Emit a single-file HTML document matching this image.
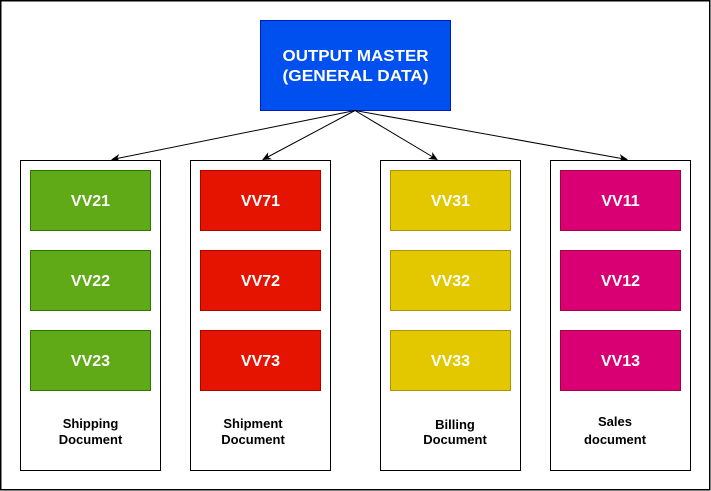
<!DOCTYPE html>
<html><head><meta charset="utf-8"><style>
html,body{margin:0;padding:0;background:#fff;width:711px;height:491px;overflow:hidden}
svg text{font-family:"Liberation Sans",Arial,sans-serif;font-weight:bold}
</style></head><body>
<svg width="711" height="491" viewBox="0 0 711 491" xmlns="http://www.w3.org/2000/svg">
<defs><marker id="a" markerWidth="10" markerHeight="10" refX="8" refY="5" orient="auto" markerUnits="userSpaceOnUse"><path d="M0,1 L9,5 L0,9 L2.5,5 Z" fill="#000"/></marker></defs>
<rect x="0.75" y="0.75" width="709" height="489" fill="#fff" stroke="#000" stroke-width="1.5"/>
<rect x="260.5" y="20.5" width="190" height="90" fill="#0050ef" stroke="#001dbc"/>
<text x="355.5" y="61" fill="#fff" font-size="16" text-anchor="middle" textLength="146" lengthAdjust="spacingAndGlyphs">OUTPUT MASTER</text>
<text x="355.5" y="81" fill="#fff" font-size="16" text-anchor="middle" textLength="146" lengthAdjust="spacingAndGlyphs">(GENERAL DATA)</text>
<g stroke="#000" stroke-width="1" fill="none" marker-end="url(#a)">
<line x1="355" y1="110.5" x2="112" y2="159.5"/>
<line x1="355" y1="110.5" x2="263" y2="159.5"/>
<line x1="355" y1="110.5" x2="437" y2="159.5"/>
<line x1="355" y1="110.5" x2="627" y2="159.5"/>
</g>
<g fill="#fff" stroke="#000" stroke-width="1">
<rect x="20.5" y="160.5" width="140" height="310"/>
<rect x="190.5" y="160.5" width="140" height="310"/>
<rect x="380.5" y="160.5" width="140" height="310"/>
<rect x="550.5" y="160.5" width="140" height="310"/>
</g>
<g stroke-width="1">
<rect x="30.5" y="170.5" width="120" height="60" fill="#60a917" stroke="#2d7600"/>
<rect x="30.5" y="250.5" width="120" height="60" fill="#60a917" stroke="#2d7600"/>
<rect x="30.5" y="330.5" width="120" height="60" fill="#60a917" stroke="#2d7600"/>
<rect x="200.5" y="170.5" width="120" height="60" fill="#e51400" stroke="#b20000"/>
<rect x="200.5" y="250.5" width="120" height="60" fill="#e51400" stroke="#b20000"/>
<rect x="200.5" y="330.5" width="120" height="60" fill="#e51400" stroke="#b20000"/>
<rect x="390.5" y="170.5" width="120" height="60" fill="#e3c800" stroke="#b09500"/>
<rect x="390.5" y="250.5" width="120" height="60" fill="#e3c800" stroke="#b09500"/>
<rect x="390.5" y="330.5" width="120" height="60" fill="#e3c800" stroke="#b09500"/>
<rect x="560.5" y="170.5" width="120" height="60" fill="#d80073" stroke="#a50040"/>
<rect x="560.5" y="250.5" width="120" height="60" fill="#d80073" stroke="#a50040"/>
<rect x="560.5" y="330.5" width="120" height="60" fill="#d80073" stroke="#a50040"/>
</g>
<g fill="#fff" font-size="16" text-anchor="middle">
<text x="90.5" y="206">VV21</text><text x="90.5" y="286">VV22</text><text x="90.5" y="366">VV23</text>
<text x="260.5" y="206">VV71</text><text x="260.5" y="286">VV72</text><text x="260.5" y="366">VV73</text>
<text x="450.5" y="206">VV31</text><text x="450.5" y="286">VV32</text><text x="450.5" y="366">VV33</text>
<text x="620.5" y="206">VV11</text><text x="620.5" y="286">VV12</text><text x="620.5" y="366">VV13</text>
</g>
<g fill="#000" font-size="13" text-anchor="middle">
<text x="90.5" y="428">Shipping</text><text x="90.5" y="444">Document</text>
<text x="253" y="428">Shipment</text><text x="253" y="444">Document</text>
<text x="455" y="429">Billing</text><text x="455" y="444">Document</text>
<text x="615" y="426">Sales</text><text x="615" y="444">document</text>
</g>
</svg>
</body></html>
